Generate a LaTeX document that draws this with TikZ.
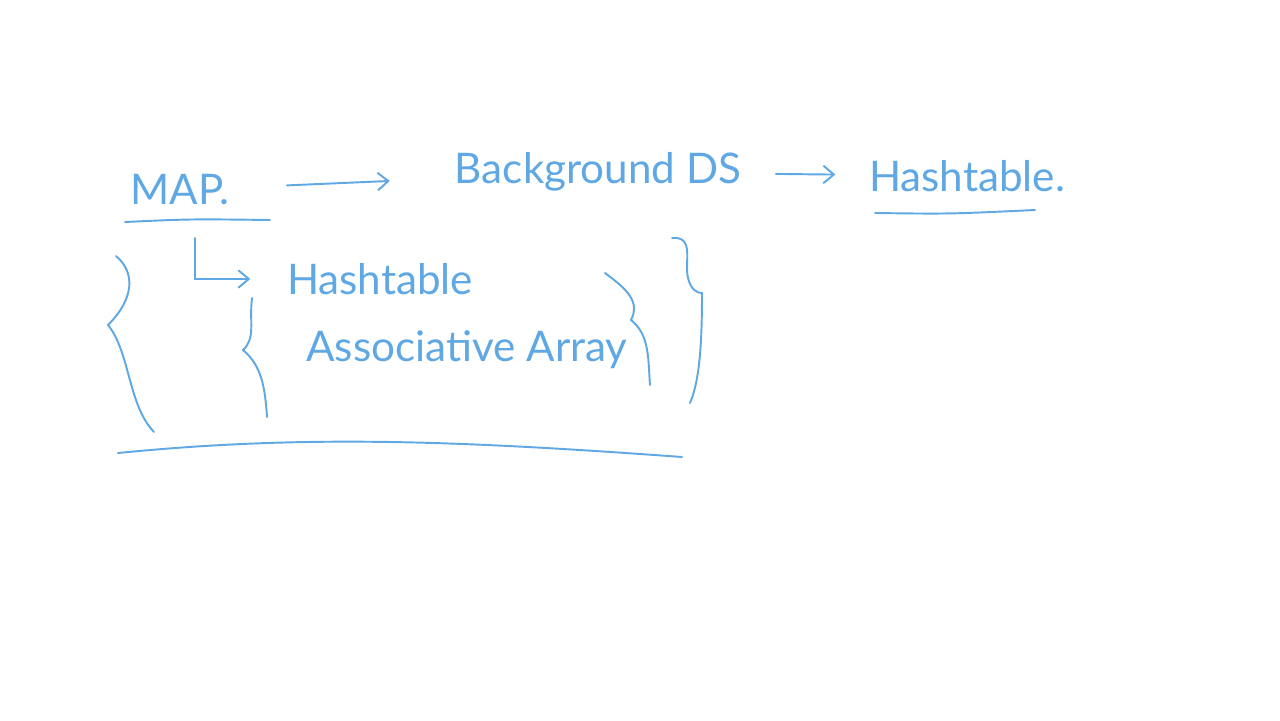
\documentclass[tikz,border=0pt]{standalone}
\usepackage{fontspec}
\setmainfont{Lato}
\usetikzlibrary{positioning,arrows.meta}
\definecolor{ink}{RGB}{95,168,228}

\begin{document}
\begin{tikzpicture}[x=0.02cm,y=-0.02cm,>={Straight Barb[length=6pt,width=10pt]},
  line width=1.1pt,line cap=round,draw=ink,
  word/.style={text=ink,font=\fontsize{24}{28}\selectfont,inner sep=1pt},
  flow/.style={->,draw=ink}]
  \useasboundingbox (0,0) rectangle (1280,720);

  \node[word] (map) at (180,190) {MAP.};
  \node[word] (bg) at (598,172) {Background DS};
  \node[word] (hash) at (967,176) {Hashtable.};
  \node[word] (hash2) at (380,279) {Hashtable};
  \node[word] (assoc) at (467,350) {Associative Array};
  \coordinate (elbow) at (195,238);

  \path[flow]
    (map) edge [shorten <=1.1cm,shorten >=1.25cm] (bg)
    (bg) edge [shorten <=0.64cm,shorten >=0.62cm] (hash);
  \draw[flow,shorten >=0.68cm] (elbow) |- (hash2.west);

  % underlines
  \draw[ink] (125,222) .. controls (190,219) .. (270,220);
  \draw[ink] (875,213) .. controls (950,214) .. (1035,210);
  \draw[ink] (118,453) .. controls (300,435) and (450,440) .. (682,457);

  % braces
  \draw[ink] (116,256) .. controls (135,272) and (135,298) .. (108,325)
    .. controls (130,352) and (128,405) .. (154,432);
  \draw[ink] (252,298) .. controls (249,322) and (256,338) .. (243,350)
    .. controls (262,366) and (265,388) .. (267,417);
  \draw[ink] (605,273) .. controls (628,290) and (640,302) .. (631,320)
    .. controls (650,335) and (648,360) .. (650,385);
  \draw[ink] (672,238) .. controls (695,236) and (684,262) .. (688,278)
    .. controls (691,290) and (697,293) .. (702,293)
    .. controls (702,340) and (700,380) .. (690,403);
\end{tikzpicture}
\end{document}
